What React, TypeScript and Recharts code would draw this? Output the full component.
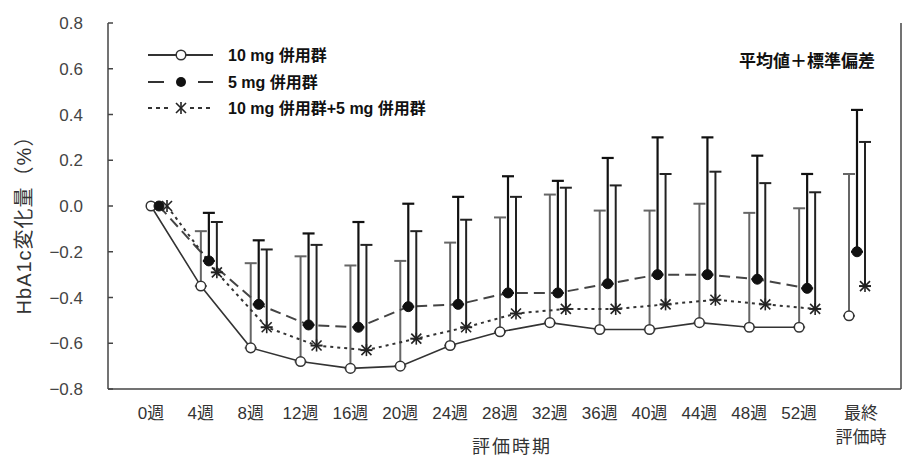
import React from "react";
import { LineChart, Line, XAxis, YAxis, ErrorBar, Legend } from "recharts";

const weeks = ["0週", "4週", "8週", "12週", "16週", "20週", "24週", "28週", "32週", "36週", "40週", "44週", "48週", "52週", "最終\n評価時"];

const mean10 = [0, -0.35, -0.62, -0.68, -0.71, -0.70, -0.61, -0.55, -0.51, -0.54, -0.54, -0.51, -0.53, -0.53, -0.48];
const sd10 = [null, 0.24, 0.37, 0.46, 0.45, 0.46, 0.45, 0.50, 0.56, 0.52, 0.52, 0.52, 0.50, 0.52, 0.62];

const mean5 = [0, -0.24, -0.43, -0.52, -0.53, -0.44, -0.43, -0.38, -0.38, -0.34, -0.30, -0.30, -0.32, -0.36, -0.20];
const sd5 = [null, 0.21, 0.28, 0.40, 0.46, 0.45, 0.47, 0.51, 0.49, 0.55, 0.60, 0.60, 0.54, 0.50, 0.62];

const meanCombo = [0, -0.29, -0.53, -0.61, -0.63, -0.58, -0.53, -0.47, -0.45, -0.45, -0.43, -0.41, -0.43, -0.45, -0.35];
const sdCombo = [null, 0.22, 0.34, 0.44, 0.46, 0.47, 0.47, 0.51, 0.53, 0.54, 0.57, 0.56, 0.53, 0.51, 0.63];

const yTicks = [-0.8, -0.6, -0.4, -0.2, 0, 0.2, 0.4, 0.6, 0.8];

const seriesNames = ["10 mg 併用群", "5 mg 併用群", "10 mg 併用群+5 mg 併用群"];
const annotation = "平均値＋標準偏差";
const xTitle = "評価時期";
const yTitle = "HbA1c変化量（%）";

const FONT = "'Liberation Sans', 'Noto Sans CJK JP', sans-serif";
const last = weeks.length - 1;

const err = (sd: (number | null)[], i: number) => (sd[i] == null ? null : [0, sd[i] as number]);

const data = weeks.map((w, i) => ({
  label: w,
  a: i < last ? mean10[i] : null,
  aF: i === last ? mean10[i] : null,
  aE: i < last ? err(sd10, i) : null,
  aFE: i === last ? err(sd10, i) : null,
  b: i < last ? mean5[i] : null,
  bF: i === last ? mean5[i] : null,
  bE: i < last ? err(sd5, i) : null,
  bFE: i === last ? err(sd5, i) : null,
  c: i < last ? meanCombo[i] : null,
  cF: i === last ? meanCombo[i] : null,
  cE: i < last ? err(sdCombo, i) : null,
  cFE: i === last ? err(sdCombo, i) : null,
}));

const OpenDot = (p: any) => {
  if (p.cx == null || p.cy == null) return <g />;
  return <circle cx={p.cx} cy={p.cy} r={4.8} fill="#fff" stroke="#333" strokeWidth={1.5} />;
};
const FilledDot = (p: any) => {
  if (p.cx == null || p.cy == null) return <g />;
  return <circle cx={p.cx} cy={p.cy} r={5} fill="#111" stroke="#111" strokeWidth={1} />;
};
const StarDot = (p: any) => {
  if (p.cx == null || p.cy == null) return <g />;
  const s = 5;
  return (
    <g stroke="#222" strokeWidth={1.6}>
      <line x1={p.cx - s} y1={p.cy - s} x2={p.cx + s} y2={p.cy + s} />
      <line x1={p.cx - s} y1={p.cy + s} x2={p.cx + s} y2={p.cy - s} />
      <line x1={p.cx} y1={p.cy - s - 1} x2={p.cx} y2={p.cy + s + 1} />
    </g>
  );
};

const XTick = (p: any) => {
  const lines = String(p.payload.value).split("\n");
  const dx = lines.length > 1 ? 12 : 0;
  return (
    <text x={p.x + dx} y={p.y} textAnchor="middle" fill="#333" fontSize={17} fontFamily={FONT}>
      {lines.map((l, k) => (
        <tspan key={k} x={p.x + dx} dy={k === 0 ? 30 : 24}>
          {l}
        </tspan>
      ))}
    </text>
  );
};

const YTitle = (p: any) => {
  const vb = p.viewBox || {};
  const cy = (vb.y ?? 23) + (vb.height ?? 366) / 2 + 14;
  return (
    <text
      x={24}
      y={cy}
      transform={`rotate(-90 24 ${cy})`}
      textAnchor="middle"
      dominantBaseline="central"
      fill="#333"
      fontSize={20}
      fontFamily={FONT}
      letterSpacing={1}
    >
      {yTitle}
    </text>
  );
};

const fmt = (v: number) => (v < 0 ? "\u2212" + Math.abs(v).toFixed(1) : v.toFixed(1));

const LegendContent = () => {
  const rows = [15, 42, 68];
  return (
    <svg width={340} height={85} style={{ overflow: "visible" }}>
      <line x1={8} y1={rows[0]} x2={73} y2={rows[0]} stroke="#333" strokeWidth={2} />
      <circle cx={41} cy={rows[0]} r={4.8} fill="#fff" stroke="#333" strokeWidth={1.5} />
      <line x1={8} y1={rows[1]} x2={24} y2={rows[1]} stroke="#333" strokeWidth={2} />
      <line x1={58} y1={rows[1]} x2={73} y2={rows[1]} stroke="#333" strokeWidth={2} />
      <circle cx={41} cy={rows[1]} r={5} fill="#111" />
      <line x1={8} y1={rows[2]} x2={32} y2={rows[2]} stroke="#333" strokeWidth={2} strokeDasharray="4 4" />
      <line x1={50} y1={rows[2]} x2={73} y2={rows[2]} stroke="#333" strokeWidth={2} strokeDasharray="4 4" />
      <g stroke="#222" strokeWidth={1.6}>
        <line x1={36} y1={rows[2] - 5} x2={46} y2={rows[2] + 5} />
        <line x1={36} y1={rows[2] + 5} x2={46} y2={rows[2] - 5} />
        <line x1={41} y1={rows[2] - 6} x2={41} y2={rows[2] + 6} />
      </g>
      {seriesNames.map((n, k) => (
        <text key={k} x={88} y={rows[k] + 6} fontSize={16} fontWeight="bold" fill="#111" fontFamily={FONT}>
          {n}
        </text>
      ))}
    </svg>
  );
};

export default function App() {
  return (
    <div style={{ position: "absolute", left: 0, top: 0, width: 905, height: 457, background: "#fff" }}>
      <LineChart width={905} height={457} data={data} margin={{ top: 23, right: 0, bottom: 0, left: 0 }}>
        <XAxis
          xAxisId="a"
          dataKey="label"
          scale="point"
          padding={{ left: 43, right: 52 }}
          height={68}
          interval={0}
          tickLine={false}
          tickSize={0}
          tickMargin={0}
          tick={<XTick />}
          axisLine={{ stroke: "#444", strokeWidth: 1.5 }}
        />
        <XAxis xAxisId="b" dataKey="label" scale="point" padding={{ left: 51, right: 44 }} hide />
        <XAxis xAxisId="c" dataKey="label" scale="point" padding={{ left: 59, right: 36 }} hide />
        <XAxis
          xAxisId="top"
          dataKey="label"
          orientation="top"
          height={0}
          tick={false}
          tickLine={false}
          axisLine={{ stroke: "#444", strokeWidth: 1.5 }}
        />
        <YAxis
          yAxisId="y"
          width={108}
          domain={[-0.8, 0.8]}
          ticks={yTicks}
          allowDataOverflow
          tickFormatter={fmt}
          tickSize={-5}
          tickMargin={30}
          tickLine={{ stroke: "#444", strokeWidth: 1.5 }}
          axisLine={{ stroke: "#444", strokeWidth: 1.5 }}
          tick={{ fill: "#444", fontSize: 17, fontFamily: FONT }}
          label={<YTitle />}
        />
        <YAxis
          yAxisId="r"
          orientation="right"
          width={4}
          domain={[-0.8, 0.8]}
          tick={false}
          tickLine={false}
          axisLine={{ stroke: "#444", strokeWidth: 1.5 }}
        />
        <Legend
          layout="vertical"
          align="center"
          verticalAlign="middle"
          wrapperStyle={{ left: 140, top: 40, width: 340, height: 85 }}
          content={<LegendContent />}
        />

        <Line xAxisId="a" yAxisId="y" dataKey="a" stroke="#333" strokeWidth={1.6} dot={OpenDot} activeDot={false} isAnimationActive={false} legendType="none">
          <ErrorBar dataKey="aE" direction="y" width={6} stroke="#666" strokeWidth={2} />
        </Line>
        <Line xAxisId="a" yAxisId="y" dataKey="aF" stroke="none" dot={OpenDot} activeDot={false} isAnimationActive={false} legendType="none">
          <ErrorBar dataKey="aFE" direction="y" width={6} stroke="#666" strokeWidth={2} />
        </Line>

        <Line xAxisId="b" yAxisId="y" dataKey="b" stroke="#444" strokeWidth={2} strokeDasharray="11 6" dot={FilledDot} activeDot={false} isAnimationActive={false} legendType="none">
          <ErrorBar dataKey="bE" direction="y" width={6} stroke="#111" strokeWidth={2.2} />
        </Line>
        <Line xAxisId="b" yAxisId="y" dataKey="bF" stroke="none" dot={FilledDot} activeDot={false} isAnimationActive={false} legendType="none">
          <ErrorBar dataKey="bFE" direction="y" width={6} stroke="#111" strokeWidth={2.2} />
        </Line>

        <Line xAxisId="c" yAxisId="y" dataKey="c" stroke="#333" strokeWidth={2} strokeDasharray="3 4" dot={StarDot} activeDot={false} isAnimationActive={false} legendType="none">
          <ErrorBar dataKey="cE" direction="y" width={6} stroke="#222" strokeWidth={2} />
        </Line>
        <Line xAxisId="c" yAxisId="y" dataKey="cF" stroke="none" dot={StarDot} activeDot={false} isAnimationActive={false} legendType="none">
          <ErrorBar dataKey="cFE" direction="y" width={6} stroke="#222" strokeWidth={2} />
        </Line>
      </LineChart>
      <div
        style={{
          position: "absolute",
          left: 600,
          width: 275,
          top: 50,
          textAlign: "right",
          fontSize: 17,
          fontWeight: "bold",
          color: "#111",
          fontFamily: FONT,
          lineHeight: "24px",
        }}
      >
        {annotation}
      </div>
      <div
        style={{
          position: "absolute",
          left: 412,
          width: 200,
          top: 436,
          textAlign: "center",
          fontSize: 18,
          color: "#333",
          fontFamily: FONT,
          lineHeight: "22px",
          letterSpacing: 2,
        }}
      >
        {xTitle}
      </div>
    </div>
  );
}
